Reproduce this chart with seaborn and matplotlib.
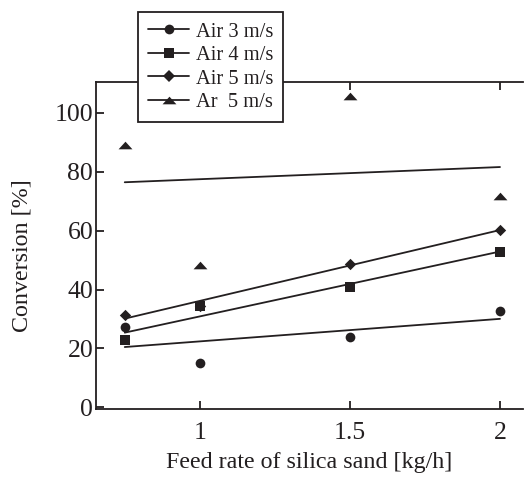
import matplotlib
matplotlib.use("Agg")
import matplotlib.pyplot as plt
from matplotlib.lines import Line2D
import seaborn as sns
import pandas as pd

# feed rate of silica sand [kg/h]
feed_rate = [0.75, 1.0, 1.5, 2.0]

# conversion [%] per gas condition
air_3 = [27.1, 15.2, 24.0, 32.8]
air_4 = [22.8, 34.5, 41.0, 52.7]
air_5 = [31.2, 34.5, 48.7, 60.2]
ar_5 = [89.2, 48.4, 105.7, 71.7]

labels = ["Air 3 m/s", "Air 4 m/s", "Air 5 m/s", "Ar  5 m/s"]

# flat triangle like the original figure
flat_tri = [(-1, -0.55), (1, -0.55), (0, 0.55), (-1, -0.55)]
markers = ["o", "s", "D", flat_tri]
sizes = [7, 7.5, 5.8, 10]

ink = "#231f20"

df = pd.DataFrame({
    "feed": feed_rate * 4,
    "conv": air_3 + air_4 + air_5 + ar_5,
    "series": [l for l in labels for _ in feed_rate],
})

sns.set_style("ticks")
plt.rcParams["font.family"] = ["Liberation Serif", "DejaVu Serif"]
plt.rcParams["text.color"] = ink
plt.rcParams["axes.labelcolor"] = ink

fig = plt.figure(figsize=(5.30, 4.79), dpi=100)
ax = fig.add_axes([0.181, 0.146, 0.806, 0.683])

handles = []
for lab, m, ms in zip(labels, markers, sizes):
    sub = df[df["series"] == lab]
    sns.regplot(data=sub, x="feed", y="conv", ax=ax, ci=None, truncate=True,
                marker=m, color=ink,
                scatter_kws={"s": ms ** 2, "linewidths": 0, "zorder": 3,
                             "alpha": 1},
                line_kws={"lw": 1.3, "color": ink})
    handles.append(Line2D([], [], color=ink, lw=1.3, marker=m,
                          markersize=ms, markeredgewidth=0, label=lab))

ax.set_xlim(0.654, 2.077)
ax.set_ylim(-0.6, 110.5)
ax.set_xticks([1, 1.5, 2])
ax.set_xticklabels(["1", "1.5", "2"])
ax.set_yticks([0, 20, 40, 60, 80, 100])
ax.tick_params(direction="in", length=6, width=1.3, labelsize=18.5,
               colors=ink, top=True, pad=2)
ax.tick_params(axis="x", pad=9)
for side in ["left", "bottom", "top"]:
    ax.spines[side].set_linewidth(1.3)
    ax.spines[side].set_color(ink)
ax.spines["right"].set_visible(False)

ax.set_xlabel("Feed rate of silica sand [kg/h]", fontsize=17.3, labelpad=6)
ax.set_ylabel("Conversion [%]", fontsize=17.3)
ax.yaxis.set_label_coords(-0.148, 0.468)

leg = fig.legend(handles=handles, loc="upper left",
                 bbox_to_anchor=(0.2604, 0.975), borderaxespad=0,
                 fontsize=14.8, frameon=True, fancybox=False,
                 handlelength=2.0, handletextpad=0.3, labelspacing=0.2,
                 borderpad=0.5)
leg.get_frame().set_edgecolor(ink)
leg.get_frame().set_linewidth(1.3)
leg.get_frame().set_alpha(1)

fig.savefig("out.png", dpi=100)
